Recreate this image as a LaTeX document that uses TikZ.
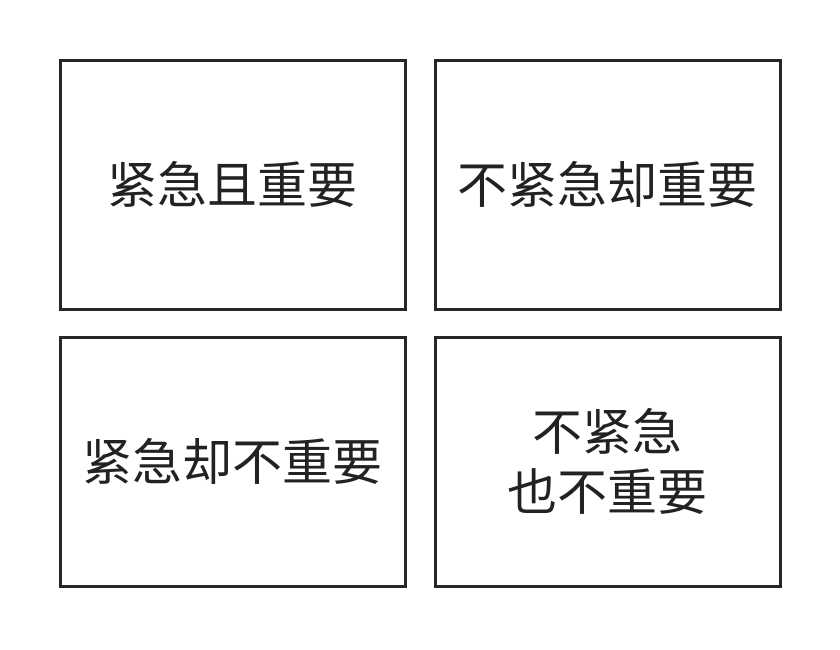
\documentclass[tikz,border=0pt]{standalone}
\usepackage{fontspec}
\newfontfamily\cjk{Noto Sans CJK SC}
\usepackage{xcolor}
\usetikzlibrary{positioning}
\definecolor{boxline}{HTML}{262626}
\definecolor{boxtext}{HTML}{222222}
\tikzset{quad/.style={draw=boxline, line width=3pt, rectangle,
  minimum width=345pt, minimum height=249pt, inner sep=0pt,
  align=center, text=boxtext, font=\cjk\fontsize{50}{60}\selectfont}}

\begin{document}
\begin{tikzpicture}[x=1pt,y=-1pt]
\useasboundingbox (0,0) rectangle (840,649);

\node[quad] (ui) at (232.5,184.5) {紧急且重要};
\node[quad] (ni) at (607.5,184.5) {不紧急却重要};
\node[quad] (un) at (232.5,461.5) {紧急却不重要};
\node[quad] (nn) at (607.5,461.5) {不紧急\\也不重要};

\end{tikzpicture}
\end{document}
